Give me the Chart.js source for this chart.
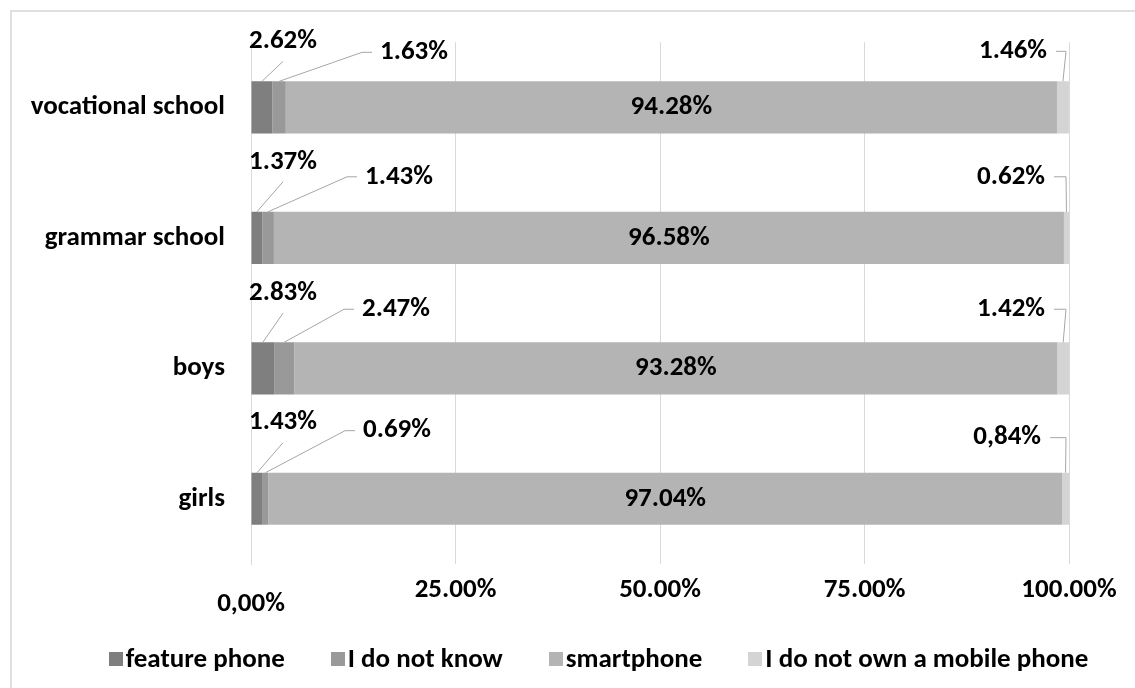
<!DOCTYPE html>
<html>
<head>
<meta charset="utf-8">
<script src="https://cdn.jsdelivr.net/npm/chart.js@4"></script>
<style>
  body { margin: 0; background: #fff; }
  #wrap { position: relative; width: 1135px; height: 688px; overflow: hidden; }
  #frame { position: absolute; left: 10px; top: 10px; width: 1200px; height: 800px; border: 2px solid #e0e0e0; box-sizing: border-box; }
  #chart { position: absolute; left: 0; top: 0; }
  #legend { position: absolute; left: 31px; top: 641px; width: 1135px; text-align: center;
    font: bold 27px Carlito, Lato, sans-serif; color: #000; white-space: nowrap; }
  #legend span.item { display: inline-block; margin: 0 23px; }
  #legend i { display: inline-block; width: 14px; height: 14px; margin-right: 3px; vertical-align: 1px; }
</style>
</head>
<body>
<div id="wrap">
  <div id="frame"></div>
  <canvas id="chart" width="1135" height="688"></canvas>
  <div id="legend"></div>
</div>
<script>
const categories = ['vocational school', 'grammar school', 'boys', 'girls'];
const seriesNames = ['feature phone', 'I do not know', 'smartphone', 'I do not own a mobile phone'];
const featurePhone = [2.62, 1.37, 2.83, 1.43];
const doNotKnow = [1.63, 1.43, 2.47, 0.69];
const smartphone = [94.28, 96.58, 93.28, 97.04];
const noPhone = [1.46, 0.62, 1.42, 0.84];
const noPhoneDecimal = ['.', '.', '.', ','];
const tickValues = [0, 25, 50, 75, 100];
const tickLabels = ['0,00%', '25.00%', '50.00%', '75.00%', '100.00%'];

const colors = ['#7f7f7f', '#999999', '#b4b4b4', '#d4d4d4'];
const FONT = 'Carlito, Lato, sans-serif';
const SIZE = 27;
const LEADER = '#a6a6a6';

// where the small-value callouts sit, relative to the bar top / plot edges
const callouts = [
  { featDy: -40, knowDx: 129, knowDy: -29, noneDx: -22, noneDy: -30 },
  { featDy: -50, knowDx: 114, knowDy: -35, noneDx: -24, noneDy: -35 },
  { featDy: -49, knowDx: 111, knowDy: -33, noneDx: -24, noneDy: -33 },
  { featDy: -50, knowDx: 112, knowDy: -42, noneDx: -28, noneDy: -35 },
];

const fmt = (v, mark) => v.toFixed(2).replace('.', mark || '.') + '%';

const calloutPlugin = {
  id: 'callouts',
  afterDatasetsDraw(chart) {
    const ctx = chart.ctx;
    const area = chart.chartArea;
    const bar = (ds, i) => chart.getDatasetMeta(ds).data[i].getProps(['x', 'y', 'base', 'height'], true);
    ctx.save();
    ctx.font = 'bold ' + SIZE + 'px ' + FONT;
    ctx.fillStyle = '#000';
    ctx.strokeStyle = LEADER;
    ctx.lineWidth = 1;
    ctx.textBaseline = 'middle';

    categories.forEach((c, i) => {
      const o = callouts[i];
      const f = bar(0, i), k = bar(1, i), s = bar(2, i), n = bar(3, i);
      const top = f.y - f.height / 2;

      // smartphone value in the middle of its segment
      ctx.textAlign = 'center';
      ctx.fillText(fmt(smartphone[i]), (s.x + s.base) / 2, s.y);

      // feature phone: label above, leader slanting down to the segment
      const fx = area.left + 32, fy = top + o.featDy;
      ctx.fillText(fmt(featurePhone[i]), fx, fy);
      ctx.beginPath();
      ctx.moveTo((f.x + f.base) / 2, top);
      ctx.lineTo(fx, fy + 20);
      ctx.stroke();

      // "I do not know": label to the right with an elbow leader
      const kx = area.left + o.knowDx, ky = top + o.knowDy;
      ctx.textAlign = 'left';
      ctx.fillText(fmt(doNotKnow[i]), kx, ky);
      ctx.beginPath();
      ctx.moveTo((k.x + k.base) / 2, top);
      ctx.lineTo(kx - 18, ky);
      ctx.lineTo(kx - 8, ky);
      ctx.stroke();

      // no phone: label left of the bar end, leader drops onto the segment
      const nx = area.right + o.noneDx, ny = top + o.noneDy;
      ctx.textAlign = 'right';
      ctx.fillText(fmt(noPhone[i], noPhoneDecimal[i]), nx, ny);
      ctx.beginPath();
      ctx.moveTo(nx + 9, ny);
      ctx.lineTo(area.right - 3, ny);
      ctx.lineTo((n.x + n.base) / 2, top);
      ctx.stroke();
    });
    ctx.restore();
  }
};

const values = [featurePhone, doNotKnow, smartphone, noPhone];

new Chart(document.getElementById('chart'), {
  type: 'bar',
  data: {
    labels: categories,
    datasets: values.map((v, d) => ({
      label: seriesNames[d],
      data: v,
      backgroundColor: colors[d],
      borderWidth: 0,
      barPercentage: 0.4,
      categoryPercentage: 1,
    }))
  },
  options: {
    indexAxis: 'y',
    responsive: false,
    animation: false,
    layout: { padding: { left: 0, top: 36, right: 66, bottom: 64 } },
    plugins: { legend: { display: false }, tooltip: { enabled: false } },
    scales: {
      x: {
        stacked: true,
        min: 0,
        max: 100,
        afterBuildTicks(scale) {
          scale.ticks = tickValues.map(v => ({ value: v }));
        },
        afterFit(scale) { scale.height = 60; },
        grid: { color: '#d9d9d9', drawTicks: false },
        border: { display: false },
        ticks: {
          padding: 10,
          color: '#000',
          maxRotation: 0,
          autoSkip: false,
          font: ctx => ctx.index === 0
            ? { family: FONT, size: SIZE, weight: 'bold', lineHeight: 0.74 }
            : { family: FONT, size: SIZE, weight: 'bold', lineHeight: 1.2 },
          callback: (v, i) => i === 0 ? ['', tickLabels[i]] : tickLabels[i],
        }
      },
      y: {
        stacked: true,
        afterFit(scale) { scale.width = 251; },
        grid: { display: false, drawTicks: false },
        border: { display: true, color: '#d9d9d9' },
        ticks: {
          padding: 26,
          color: '#000',
          font: { family: FONT, size: SIZE, weight: 'bold' },
        }
      }
    }
  },
  plugins: [calloutPlugin]
});

// legend below the plot
const legend = document.getElementById('legend');
seriesNames.forEach((name, d) => {
  const item = document.createElement('span');
  item.className = 'item';
  item.innerHTML = '<i style="background:' + colors[d] + '"></i>' + name;
  legend.appendChild(item);
});
</script>
</body>
</html>
